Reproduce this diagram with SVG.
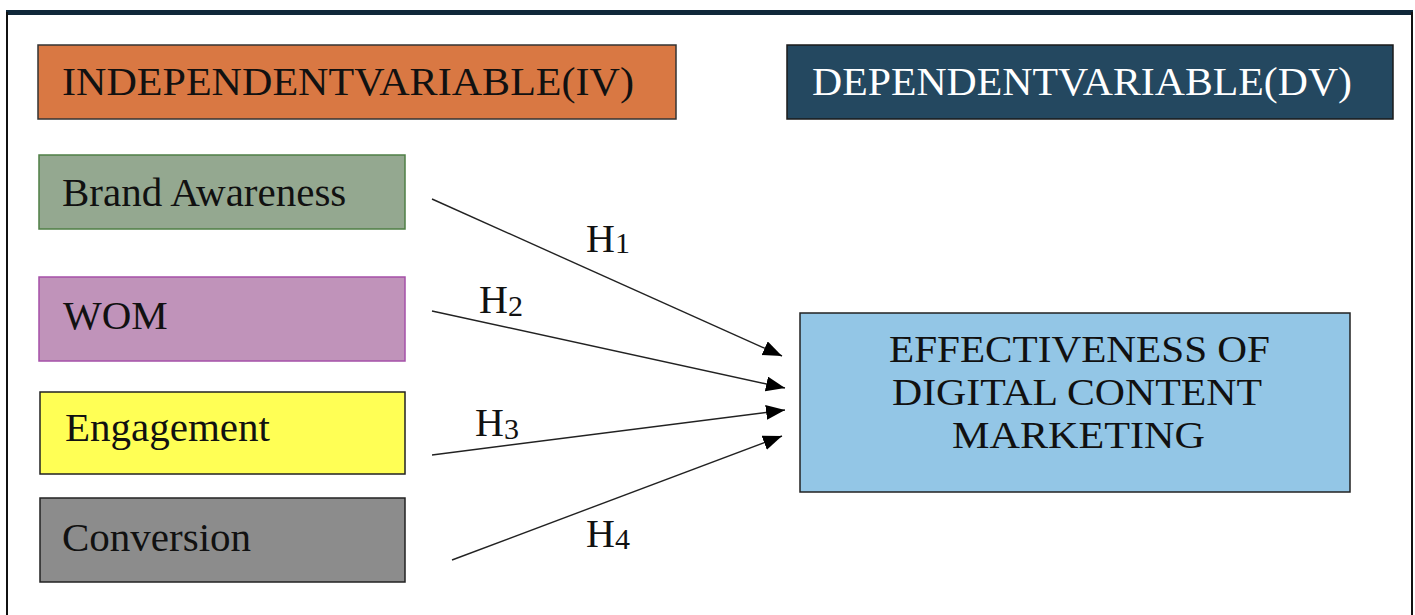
<svg xmlns="http://www.w3.org/2000/svg" width="1415" height="615" viewBox="0 0 1415 615">
  <style>
    .lbl { font-family: "Liberation Serif", "Times New Roman", serif; font-size: 41px; fill: #111; }
    .dv { font-family: "Liberation Serif", "Times New Roman", serif; font-size: 38px; fill: #111; }
    .hdr { font-family: "Liberation Serif", "Times New Roman", serif; font-size: 41px; }
    .hyp { font-family: "Liberation Serif", "Times New Roman", serif; font-size: 40px; fill: #111; }
    .sub { font-size: 30px; }
    .box { stroke-width: 1.5; }
    .conn { stroke: #222; stroke-width: 1.4; fill: none; marker-end: url(#arrow); }
  </style>
  <defs>
    <marker id="arrow" markerUnits="userSpaceOnUse" markerWidth="20" markerHeight="16" refX="19" refY="7.5" orient="auto">
      <path d="M0,0 L19,7.5 L0,15 z" fill="#000"/>
    </marker>
  </defs>

  <rect x="0" y="0" width="1415" height="615" fill="#fff"/>

  <!-- page frame -->
  <g id="frame">
    <rect x="6" y="10" width="1407" height="5" fill="#10283a"/>
    <line x1="7" y1="12" x2="7" y2="615" stroke="#111" stroke-width="2"/>
    <line x1="1412" y1="12" x2="1412" y2="615" stroke="#111" stroke-width="2"/>
  </g>

  <!-- column headers -->
  <g id="iv-header">
    <rect class="box" x="38" y="45" width="638" height="74" fill="#d97843" stroke="#333"/>
    <text class="hdr" x="62" y="95" fill="#111" textLength="572" lengthAdjust="spacingAndGlyphs">INDEPENDENTVARIABLE(IV)</text>
  </g>
  <g id="dv-header">
    <rect class="box" x="787" y="45" width="606" height="74" fill="#244860" stroke="#1a1a1a"/>
    <text class="hdr" x="812" y="95" fill="#fff" textLength="540" lengthAdjust="spacingAndGlyphs">DEPENDENTVARIABLE(DV)</text>
  </g>

  <!-- independent variables -->
  <g id="brand-awareness">
    <rect class="box" x="39" y="155" width="366" height="74" fill="#94a890" stroke="#4f7f45"/>
    <text class="lbl" x="62" y="206">Brand Awareness</text>
  </g>
  <g id="wom">
    <rect class="box" x="39" y="277" width="366" height="84" fill="#c093ba" stroke="#a550a8"/>
    <text class="lbl" x="63" y="329">WOM</text>
  </g>
  <g id="engagement">
    <rect class="box" x="40" y="392" width="365" height="82" fill="#ffff55" stroke="#222"/>
    <text class="lbl" x="65" y="441">Engagement</text>
  </g>
  <g id="conversion">
    <rect class="box" x="40" y="498" width="365" height="84" fill="#8c8c8c" stroke="#222"/>
    <text class="lbl" x="62" y="551">Conversion</text>
  </g>

  <!-- dependent variable -->
  <g id="effectiveness">
    <rect class="box" x="800" y="313" width="550" height="179" fill="#93c6e6" stroke="#222"/>
    <text class="dv" x="889" y="362" textLength="381" lengthAdjust="spacingAndGlyphs">EFFECTIVENESS OF</text>
    <text class="dv" x="892" y="405" textLength="370" lengthAdjust="spacingAndGlyphs">DIGITAL CONTENT</text>
    <text class="dv" x="952" y="448" textLength="253" lengthAdjust="spacingAndGlyphs">MARKETING</text>
  </g>

  <!-- hypothesis paths -->
  <g id="connectors">
    <line class="conn" x1="432" y1="199" x2="782" y2="356"/>
    <line class="conn" x1="432" y1="311" x2="785" y2="388"/>
    <line class="conn" x1="432" y1="455" x2="785" y2="410"/>
    <line class="conn" x1="452" y1="560" x2="782" y2="436"/>
    <text class="hyp" x="586" y="252">H<tspan class="sub" dy="1">1</tspan></text>
    <text class="hyp" x="479" y="313">H<tspan class="sub" dy="3">2</tspan></text>
    <text class="hyp" x="475" y="436">H<tspan class="sub" dy="3">3</tspan></text>
    <text class="hyp" x="586" y="547">H<tspan class="sub" dy="2">4</tspan></text>
  </g>
</svg>
